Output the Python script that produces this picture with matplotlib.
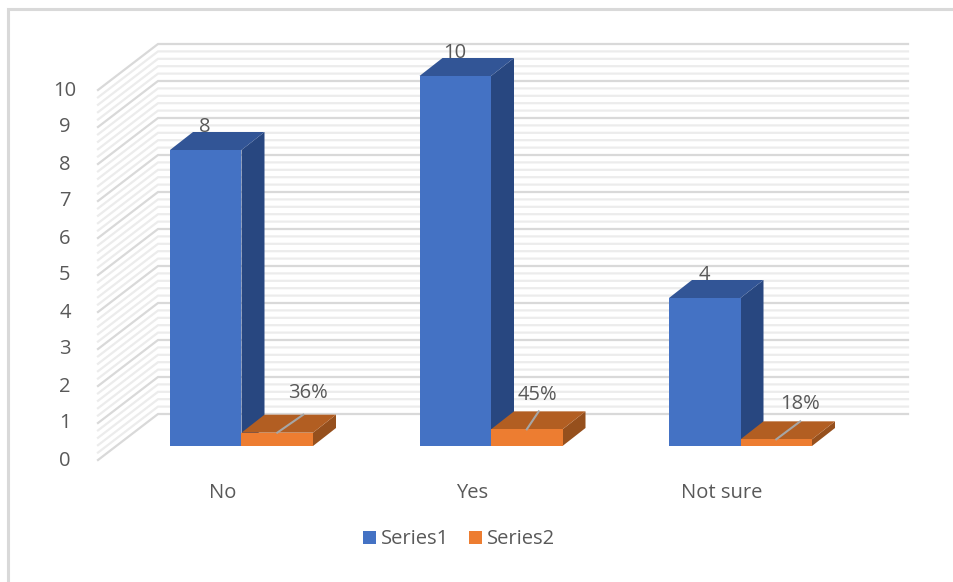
"""Excel style 3-D column chart, drawn with flat polygons in an oblique projection."""

import matplotlib

matplotlib.use("Agg")
import matplotlib.pyplot as plt
from matplotlib.patches import Patch, Polygon

categories = ["No", "Yes", "Not sure"]
series1 = [8, 10, 4]
series2 = [0.36, 0.45, 0.18]
series2_labels = ["36%", "45%", "18%"]
y_ticks = list(range(0, 11))

W, H = 954, 582
# one category is 249.5 px wide, one value unit 37 px high, first category at x = 241.5 px
PX_X = 249.5
PX_Y = 37.0
X0_PX = 241.5
Y0_PX = 446.0

BAR_W = 71.5 / PX_X
BAR_DX, BAR_DY = 23 / PX_X, 18 / PX_Y
TEXT = "#595959"
FONT_SIZE = 14.5

# label placement of the orange series, px from the bar centre / bar top
LABEL_DX = [31, 11, 24]
LABEL_DY = [40, 34, 35]
LEADER_DX = [26, 12, 24]

plt.rcParams["font.family"] = ["Open Sans", "DejaVu Sans"]

fig = plt.figure(figsize=(W / 100, H / 100), dpi=100)
ax = fig.add_axes([0, 0, 1, 1])
ax.set_xlim(-X0_PX / PX_X, (W - X0_PX) / PX_X)
ax.set_ylim((Y0_PX - H) / PX_Y, Y0_PX / PX_Y)
ax.axis("off")


def px_x(px):
    return px / PX_X


def px_y(px):
    return px / PX_Y


# outer frame, only left and top edges are visible
frame_l, frame_t = ax.get_xlim()[0] + px_x(7.5), ax.get_ylim()[1] - px_y(8.5)
ax.plot([frame_l, frame_l, ax.get_xlim()[1]], [ax.get_ylim()[0], frame_t, frame_t],
        color="#d9d9d9", lw=2.2, solid_joinstyle="miter", zorder=1)

# walls and gridlines
wall_front = -px_x(143.5)
wall_back = -px_x(83.5)
wall_right = px_x(666.5)
wall_dy = px_y(32)
wall_shift = px_y(14)
for k in range(51):
    v = k / 5
    major = k % 5 == 0
    color = "#d9d9d9" if major else "#ececec"
    z = 2 if major else 1.5
    ax.plot([wall_front, wall_back, wall_right],
            [v - wall_shift, v + wall_dy, v + wall_dy],
            color=color, lw=1.6, zorder=z, solid_joinstyle="miter")


def draw_bar(left, value, front, top, side, z):
    right = left + BAR_W
    ax.add_patch(Polygon([(left, 0), (right, 0), (right, value), (left, value)],
                         facecolor=front, edgecolor="none", zorder=z + 0.2))
    ax.add_patch(Polygon([(left, value), (right, value),
                          (right + BAR_DX, value + BAR_DY), (left + BAR_DX, value + BAR_DY)],
                         facecolor=top, edgecolor="none", zorder=z + 0.1))
    ax.add_patch(Polygon([(right, 0), (right + BAR_DX, BAR_DY),
                          (right + BAR_DX, value + BAR_DY), (right, value)],
                         facecolor=side, edgecolor="none", zorder=z))


for i, (a, b) in enumerate(zip(series1, series2)):
    draw_bar(i - BAR_W, a, "#4472c4", "#325596", "#284780", 3)
    draw_bar(i, b, "#ed7d31", "#b25e22", "#96501d", 4)

    # value labels
    ax.text(i - BAR_W / 2 - px_x(0.5), a + px_y(23), str(a), ha="center", va="center",
            fontsize=FONT_SIZE, color=TEXT, zorder=6)
    ax.text(i + BAR_W / 2 + px_x(LABEL_DX[i]), b + px_y(LABEL_DY[i]), series2_labels[i],
            ha="center", va="center", fontsize=FONT_SIZE, color=TEXT, zorder=6)

    # leader line from the top of the orange bar
    ax.plot([i + BAR_W / 2, i + BAR_W / 2 + px_x(LEADER_DX[i])],
            [b, b + BAR_DY], color="#a6a6a6", lw=1.5, zorder=5)

    ax.text(i - px_x(19), -px_y(46.5), categories[i], ha="center", va="center",
            fontsize=FONT_SIZE, color=TEXT, zorder=6)

for v in y_ticks:
    ax.text(wall_front - px_x(33), v - px_y(14.5), str(v), ha="center", va="center",
            fontsize=FONT_SIZE, color=TEXT, zorder=6)

handles = [Patch(facecolor="#4472c4", label="Series1"), Patch(facecolor="#ed7d31", label="Series2")]
ax.legend(handles=handles, loc="center", bbox_to_anchor=(459 / W, 1 - 539.5 / H),
          ncol=2, frameon=False, fontsize=FONT_SIZE, labelcolor=TEXT, handlelength=0.65,
          handleheight=0.65, handletextpad=0.25, columnspacing=1.0, borderpad=0, borderaxespad=0)

fig.savefig("out.png", dpi=100)
